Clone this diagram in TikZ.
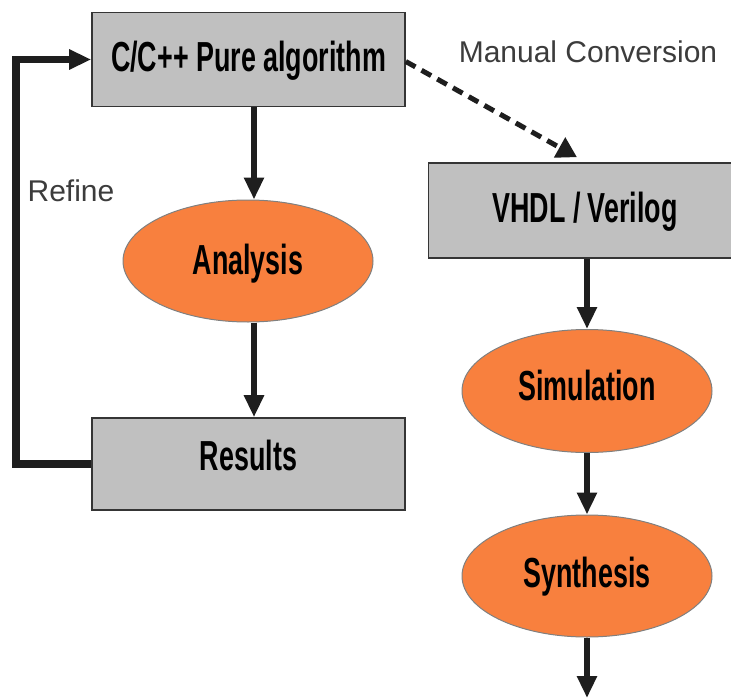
\documentclass[tikz,border=0pt]{standalone}
\usepackage{fontspec}
\setmainfont{Liberation Sans}
\newfontfamily\condfont[FakeStretch=0.64]{Liberation Sans}
\usetikzlibrary{arrows.meta,shapes.geometric,calc}
\definecolor{boxgray}{RGB}{192,192,192}
\definecolor{stageorange}{RGB}{248,128,62}
\definecolor{notegray}{RGB}{60,60,60}
\definecolor{inkdark}{RGB}{30,30,30}

\begin{document}
\begin{tikzpicture}[x=1pt,y=-1pt,
  stagebox/.style={draw=inkdark!90, line width=1.6pt, fill=boxgray,
    minimum width=313pt, inner sep=0pt,
    font=\condfont\bfseries\fontsize{42}{44}\selectfont,
    text height=30pt, text depth=0pt},
  stageoval/.style={ellipse, draw=gray, line width=1pt, fill=stageorange,
    minimum width=250pt, minimum height=122pt, inner sep=0pt,
    font=\condfont\bfseries\fontsize{42}{44}\selectfont,
    text height=30pt, text depth=0pt},
  flow/.style={draw=inkdark, line width=6.5pt,
    -{Triangle[length=22pt,width=19pt]}},
  loopflow/.style={draw=inkdark, line width=7.5pt,
    -{Triangle[length=22pt,width=19pt]}},
  convflow/.style={draw=inkdark, line width=5pt, dash pattern=on 11pt off 7pt,
    -{Triangle[length=20pt,width=22pt]}},
  note/.style={text=notegray, font=\fontsize{30}{34}\selectfont, inner sep=0pt}
]
\useasboundingbox (0,0) rectangle (731,698);

% left column: algorithm development loop
% (text depth lifts the caption a little above the shape centre)
\node[stagebox, minimum height=94pt, text depth=6pt] (algo) at (248.5,59.5) {C/C++ Pure algorithm};
\node[stageoval, text depth=4pt] (analysis) at (248,261) {Analysis};
\node[stagebox, minimum height=92pt, text depth=18pt] (results) at (248.5,464) {Results};

% right column: hardware flow
\node[stagebox, minimum height=95pt, text depth=7pt] (hdl) at (585,210.5) {VHDL / Verilog};
\node[stageoval, minimum height=123pt, text depth=12pt] (sim) at (587,391) {Simulation};
\node[stageoval, text depth=8pt] (synth) at (587,576) {Synthesis};

% guide columns for the vertical connectors
\coordinate (lcol) at (254,0);
\coordinate (rcol) at (587,0);
\coordinate (flowout) at (587,698);

% annotations
\node[note] (convlabel) at (588,52) {Manual Conversion};
\node[note] (refinelabel) at (71,191) {Refine};

% connectors
\draw[flow] (algo.south -| lcol) -- (analysis.north -| lcol);
\draw[flow] (analysis.south -| lcol) -- (results.north -| lcol);
\draw[loopflow] (results.west) -- ++(-75,0) |- (algo.west);
\draw[convflow] ($(algo.east)+(0,2)$) -- ($(hdl.north)+(-8,-5)$);

\draw[flow] (hdl.south -| rcol) -- (sim.north);
\draw[flow] (sim.south) -- (synth.north);
\draw[flow] (synth.south) -- (flowout);
\end{tikzpicture}
\end{document}
